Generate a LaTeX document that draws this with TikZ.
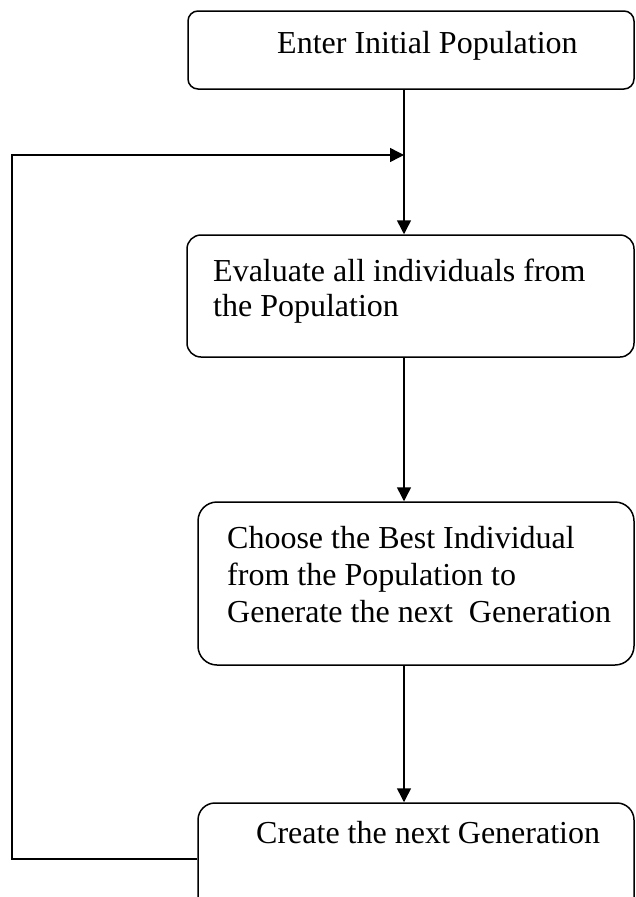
\documentclass[tikz,border=0pt]{standalone}
\usepackage{fontspec}
\setmainfont{Liberation Serif}
\usetikzlibrary{arrows.meta}
\tikzset{
	box/.style={draw, line width=1.5pt, rounded corners=14pt, inner sep=0pt},
	txt/.style={inner sep=0pt, align=left, font=\fontsize{32}{37}\selectfont},
	arr/.style={line width=1.5pt, -{Triangle[length=14pt,width=14pt]}}
}

\begin{document}
\begin{tikzpicture}[x=1pt, y=-1pt]
		%%%%% START %%%%%
		\useasboundingbox (0, 0) rectangle (635, 897);
		
		\node[box, rounded corners=10pt, minimum width=446pt, minimum height=78pt] (enter) at (411, 50) {};
		\node[box, minimum width=447pt, minimum height=122pt] (evaluate) at (410.5, 296) {};
		\node[box, rounded corners=19pt, minimum width=436pt, minimum height=163pt] (choose) at (416, 583.5) {};
		\node[box, rounded corners=17pt, minimum width=436pt, minimum height=112pt] (create) at (416, 859) {};
		
		\node[txt, anchor=base west] (enterT) at (277, 53) {Enter Initial Population};
		\node[txt, anchor=north west, font=\fontsize{32}{35}\selectfont] (evaluateT) at (213, 259) {Evaluate all individuals from\\the Population};
		\node[txt, anchor=north west] (chooseT) at (227, 526) {Choose the Best Individual\\from the Population to\\Generate the next\ \ Generation};
		\node[txt, anchor=base west] (createT) at (256, 843) {Create the next Generation};
		
		\coordinate (join) at (404, 155);
		\coordinate (back) at (12, 155);
		
		\draw[arr] (enter.south -| join) -- (evaluate.north -| join);
		\draw[arr] (evaluate.south -| join) -- (choose.north -| join);
		\draw[arr] (choose.south -| join) -- (create.north -| join);
		\draw[arr] (create.west) -| (back) -- (join);
		
		%%%%% END %%%%%
\end{tikzpicture}
\end{document}
